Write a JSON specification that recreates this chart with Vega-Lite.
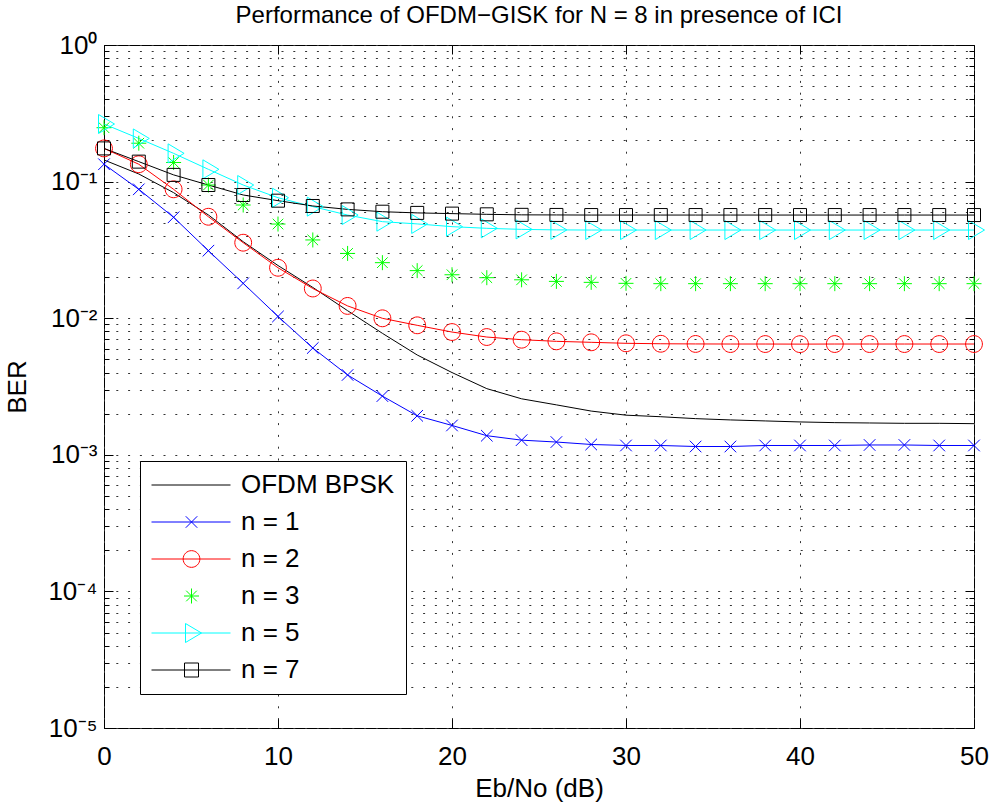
{
  "$schema": "https://vega.github.io/schema/vega-lite/v6.json",
  "width": 870,
  "height": 683,
  "autosize": "none",
  "padding": {"left": 104, "top": 45, "right": 17, "bottom": 75},
  "background": "white",
  "title": {"text": "Performance of OFDM−GISK for N = 8 in presence of ICI", "fontSize": 24, "fontWeight": "normal", "font": "Liberation Sans", "color": "black", "anchor": "middle", "baseline": "bottom", "frame": "group", "offset": -20},
  "data": {"values": [
    {"s": "OFDM BPSK", "x": 0, "y": 0.144}, {"s": "OFDM BPSK", "x": 2, "y": 0.1137}, {"s": "OFDM BPSK", "x": 4, "y": 0.083}, {"s": "OFDM BPSK", "x": 6, "y": 0.057}, {"s": "OFDM BPSK", "x": 8, "y": 0.0363}, {"s": "OFDM BPSK", "x": 10, "y": 0.0243}, {"s": "OFDM BPSK", "x": 12, "y": 0.0168}, {"s": "OFDM BPSK", "x": 14, "y": 0.01135}, {"s": "OFDM BPSK", "x": 16, "y": 0.00775}, {"s": "OFDM BPSK", "x": 18, "y": 0.00538}, {"s": "OFDM BPSK", "x": 20, "y": 0.0040}, {"s": "OFDM BPSK", "x": 22, "y": 0.00305}, {"s": "OFDM BPSK", "x": 24, "y": 0.00257}, {"s": "OFDM BPSK", "x": 26, "y": 0.00232}, {"s": "OFDM BPSK", "x": 28, "y": 0.00209}, {"s": "OFDM BPSK", "x": 30, "y": 0.00195}, {"s": "OFDM BPSK", "x": 32, "y": 0.0019}, {"s": "OFDM BPSK", "x": 34, "y": 0.00184}, {"s": "OFDM BPSK", "x": 36, "y": 0.0018}, {"s": "OFDM BPSK", "x": 38, "y": 0.00177}, {"s": "OFDM BPSK", "x": 40, "y": 0.00174}, {"s": "OFDM BPSK", "x": 42, "y": 0.00172}, {"s": "OFDM BPSK", "x": 44, "y": 0.00171}, {"s": "OFDM BPSK", "x": 46, "y": 0.0017}, {"s": "OFDM BPSK", "x": 48, "y": 0.0017}, {"s": "OFDM BPSK", "x": 50, "y": 0.00169},
    {"s": "n = 1", "x": 0, "y": 0.134}, {"s": "n = 1", "x": 2, "y": 0.0878}, {"s": "n = 1", "x": 4, "y": 0.0548}, {"s": "n = 1", "x": 6, "y": 0.0312}, {"s": "n = 1", "x": 8, "y": 0.018}, {"s": "n = 1", "x": 10, "y": 0.0103}, {"s": "n = 1", "x": 12, "y": 0.00605}, {"s": "n = 1", "x": 14, "y": 0.00384}, {"s": "n = 1", "x": 16, "y": 0.00269}, {"s": "n = 1", "x": 18, "y": 0.00193}, {"s": "n = 1", "x": 20, "y": 0.00164}, {"s": "n = 1", "x": 22, "y": 0.00138}, {"s": "n = 1", "x": 24, "y": 0.00128}, {"s": "n = 1", "x": 26, "y": 0.00124}, {"s": "n = 1", "x": 28, "y": 0.00119}, {"s": "n = 1", "x": 30, "y": 0.00117}, {"s": "n = 1", "x": 32, "y": 0.00117}, {"s": "n = 1", "x": 34, "y": 0.00115}, {"s": "n = 1", "x": 36, "y": 0.00115}, {"s": "n = 1", "x": 38, "y": 0.00117}, {"s": "n = 1", "x": 40, "y": 0.00117}, {"s": "n = 1", "x": 42, "y": 0.00117}, {"s": "n = 1", "x": 44, "y": 0.00118}, {"s": "n = 1", "x": 46, "y": 0.00118}, {"s": "n = 1", "x": 48, "y": 0.00117}, {"s": "n = 1", "x": 50, "y": 0.00117},
    {"s": "n = 2", "x": 0, "y": 0.175}, {"s": "n = 2", "x": 2, "y": 0.134}, {"s": "n = 2", "x": 4, "y": 0.0878}, {"s": "n = 2", "x": 6, "y": 0.0553}, {"s": "n = 2", "x": 8, "y": 0.0357}, {"s": "n = 2", "x": 10, "y": 0.0234}, {"s": "n = 2", "x": 12, "y": 0.0165}, {"s": "n = 2", "x": 14, "y": 0.0123}, {"s": "n = 2", "x": 16, "y": 0.00998}, {"s": "n = 2", "x": 18, "y": 0.00887}, {"s": "n = 2", "x": 20, "y": 0.00792}, {"s": "n = 2", "x": 22, "y": 0.00728}, {"s": "n = 2", "x": 24, "y": 0.00696}, {"s": "n = 2", "x": 26, "y": 0.00677}, {"s": "n = 2", "x": 28, "y": 0.00666}, {"s": "n = 2", "x": 30, "y": 0.00655}, {"s": "n = 2", "x": 32, "y": 0.0065}, {"s": "n = 2", "x": 34, "y": 0.00648}, {"s": "n = 2", "x": 36, "y": 0.00647}, {"s": "n = 2", "x": 38, "y": 0.00647}, {"s": "n = 2", "x": 40, "y": 0.00646}, {"s": "n = 2", "x": 42, "y": 0.00647}, {"s": "n = 2", "x": 44, "y": 0.00647}, {"s": "n = 2", "x": 46, "y": 0.00647}, {"s": "n = 2", "x": 48, "y": 0.00647}, {"s": "n = 2", "x": 50, "y": 0.00647},
    {"s": "n = 3", "x": 0, "y": 0.248}, {"s": "n = 3", "x": 2, "y": 0.191}, {"s": "n = 3", "x": 4, "y": 0.138}, {"s": "n = 3", "x": 6, "y": 0.0944}, {"s": "n = 3", "x": 8, "y": 0.0674}, {"s": "n = 3", "x": 10, "y": 0.0489}, {"s": "n = 3", "x": 12, "y": 0.0374}, {"s": "n = 3", "x": 14, "y": 0.0298}, {"s": "n = 3", "x": 16, "y": 0.0255}, {"s": "n = 3", "x": 18, "y": 0.0223}, {"s": "n = 3", "x": 20, "y": 0.0208}, {"s": "n = 3", "x": 22, "y": 0.0198}, {"s": "n = 3", "x": 24, "y": 0.0191}, {"s": "n = 3", "x": 26, "y": 0.0186}, {"s": "n = 3", "x": 28, "y": 0.0183}, {"s": "n = 3", "x": 30, "y": 0.018}, {"s": "n = 3", "x": 32, "y": 0.0179}, {"s": "n = 3", "x": 34, "y": 0.0179}, {"s": "n = 3", "x": 36, "y": 0.0179}, {"s": "n = 3", "x": 38, "y": 0.0179}, {"s": "n = 3", "x": 40, "y": 0.0179}, {"s": "n = 3", "x": 42, "y": 0.0179}, {"s": "n = 3", "x": 44, "y": 0.0179}, {"s": "n = 3", "x": 46, "y": 0.0179}, {"s": "n = 3", "x": 48, "y": 0.0179}, {"s": "n = 3", "x": 50, "y": 0.0179},
    {"s": "n = 5", "x": 0, "y": 0.264}, {"s": "n = 5", "x": 2, "y": 0.207}, {"s": "n = 5", "x": 4, "y": 0.161}, {"s": "n = 5", "x": 6, "y": 0.123}, {"s": "n = 5", "x": 8, "y": 0.0944}, {"s": "n = 5", "x": 10, "y": 0.0762}, {"s": "n = 5", "x": 12, "y": 0.0656}, {"s": "n = 5", "x": 14, "y": 0.0569}, {"s": "n = 5", "x": 16, "y": 0.0509}, {"s": "n = 5", "x": 18, "y": 0.049}, {"s": "n = 5", "x": 20, "y": 0.0468}, {"s": "n = 5", "x": 22, "y": 0.0455}, {"s": "n = 5", "x": 24, "y": 0.0447}, {"s": "n = 5", "x": 26, "y": 0.0443}, {"s": "n = 5", "x": 28, "y": 0.0442}, {"s": "n = 5", "x": 30, "y": 0.0442}, {"s": "n = 5", "x": 32, "y": 0.0442}, {"s": "n = 5", "x": 34, "y": 0.0442}, {"s": "n = 5", "x": 36, "y": 0.0442}, {"s": "n = 5", "x": 38, "y": 0.0442}, {"s": "n = 5", "x": 40, "y": 0.0442}, {"s": "n = 5", "x": 42, "y": 0.0442}, {"s": "n = 5", "x": 44, "y": 0.0442}, {"s": "n = 5", "x": 46, "y": 0.0442}, {"s": "n = 5", "x": 48, "y": 0.0442}, {"s": "n = 5", "x": 50, "y": 0.0442},
    {"s": "n = 7", "x": 0, "y": 0.175}, {"s": "n = 7", "x": 2, "y": 0.14}, {"s": "n = 7", "x": 4, "y": 0.112}, {"s": "n = 7", "x": 6, "y": 0.0944}, {"s": "n = 7", "x": 8, "y": 0.0798}, {"s": "n = 7", "x": 10, "y": 0.0725}, {"s": "n = 7", "x": 12, "y": 0.0663}, {"s": "n = 7", "x": 14, "y": 0.0626}, {"s": "n = 7", "x": 16, "y": 0.0602}, {"s": "n = 7", "x": 18, "y": 0.059}, {"s": "n = 7", "x": 20, "y": 0.0583}, {"s": "n = 7", "x": 22, "y": 0.0576}, {"s": "n = 7", "x": 24, "y": 0.0571}, {"s": "n = 7", "x": 26, "y": 0.057}, {"s": "n = 7", "x": 28, "y": 0.0569}, {"s": "n = 7", "x": 30, "y": 0.0569}, {"s": "n = 7", "x": 32, "y": 0.0569}, {"s": "n = 7", "x": 34, "y": 0.0569}, {"s": "n = 7", "x": 36, "y": 0.0569}, {"s": "n = 7", "x": 38, "y": 0.0569}, {"s": "n = 7", "x": 40, "y": 0.0569}, {"s": "n = 7", "x": 42, "y": 0.0569}, {"s": "n = 7", "x": 44, "y": 0.0569}, {"s": "n = 7", "x": 46, "y": 0.0569}, {"s": "n = 7", "x": 48, "y": 0.0569}, {"s": "n = 7", "x": 50, "y": 0.0569}
  ]},
  "resolve": {"axis": {"x": "independent", "y": "independent"}},
  "layer": [
    {
      "transform": [{"filter": "false"}],
      "mark": {"type": "point"},
      "encoding": {
        "x": {"field": "x", "type": "quantitative", "scale": {"domain": [0, 50], "nice": false, "zero": false}, "axis": null},
        "y": {"field": "y", "type": "quantitative", "scale": {"type": "log", "domain": [0.00001, 1], "nice": false}, "axis": {"orient": "left", "values": [0.00001,0.00002,0.00003,0.00004,0.00005,0.00006,0.00007,0.00008,0.00009,0.0001,0.0002,0.0003,0.0004,0.0005,0.0006,0.0007,0.0008,0.0009,0.001,0.002,0.003,0.004,0.005,0.006,0.007,0.008,0.009,0.01,0.02,0.03,0.04,0.05,0.06,0.07,0.08,0.09,0.1,0.2,0.3,0.4,0.5,0.6,0.7,0.8,0.9,1], "labels": false, "title": null, "tickSize": -5, "grid": true, "gridDash": [2, 9.8], "gridColor": "#333333", "gridWidth": 1}}
      }
    },
    {
      "transform": [{"filter": "false"}],
      "mark": {"type": "point"},
      "encoding": {
        "x": {"field": "x", "type": "quantitative", "axis": null},
        "y": {"field": "y", "type": "quantitative", "axis": {"orient": "right", "values": [0.00002,0.00003,0.00004,0.00005,0.00006,0.00007,0.00008,0.00009,0.0002,0.0003,0.0004,0.0005,0.0006,0.0007,0.0008,0.0009,0.002,0.003,0.004,0.005,0.006,0.007,0.008,0.009,0.02,0.03,0.04,0.05,0.06,0.07,0.08,0.09,0.2,0.3,0.4,0.5,0.6,0.7,0.8,0.9], "labels": false, "title": null, "tickSize": -5, "grid": false}}
      }
    },
    {
      "transform": [{"filter": "datum.s !== 'n = 3'"}],
      "mark": {"type": "line", "strokeWidth": 1, "clip": false},
      "encoding": {
        "x": {"field": "x", "type": "quantitative", "axis": {"orient": "bottom", "values": [0, 10, 20, 30, 40, 50], "title": "Eb/No (dB)", "tickSize": -9, "labelPadding": 24, "grid": true, "gridDash": [2, 9.8], "gridColor": "#333333", "gridWidth": 1, "labelFlush": false, "titlePadding": 6}},
        "y": {"field": "y", "type": "quantitative", "axis": {"orient": "left", "values": [0.00001, 0.0001, 0.001, 0.01, 0.1, 1], "title": "BER", "tickSize": -9, "labelPadding": 16, "grid": false, "titlePadding": 17, "labelExpr": "datum.value > 0.5 ? '10⁰' : datum.value > 0.05 ? '10⁻¹' : datum.value > 0.005 ? '10⁻²' : datum.value > 0.0005 ? '10⁻³' : datum.value > 0.00005 ? '10⁻⁴' : '10⁻⁵'"}},
        "color": {"field": "s", "type": "nominal", "scale": {"domain": ["OFDM BPSK", "n = 1", "n = 2", "n = 3", "n = 5", "n = 7"], "range": ["#000000", "#0000ff", "#ff0000", "#00ff00", "#00ffff", "#000000"]},
          "legend": {"orient": "none", "legendX": 36, "legendY": 416, "title": null, "padding": 11, "fillColor": "white", "strokeColor": "black", "labelFontSize": 26, "labelFont": "Liberation Sans", "labelColor": "black", "labelOffset": 64, "symbolSize": 625, "rowPadding": 11, "labelLimit": 400, "symbolStrokeWidth": 1,
            "encode": {"symbols": {"update": {
              "shape": {"signal": "datum.value === 'OFDM BPSK' ? 'M-1,0L5.32,0' : datum.value === 'n = 1' ? 'M-1,0L5.32,0M1.74,-0.46L2.66,0.46M1.74,0.46L2.66,-0.46' : datum.value === 'n = 2' ? 'M-1,0L5.32,0M2.868,0A0.668,0.668,0,1,1,1.532,0A0.668,0.668,0,1,1,2.868,0' : datum.value === 'n = 3' ? 'M1.6,0L2.8,0M2.2,-0.6L2.2,0.6M1.776,-0.424L2.624,0.424M1.776,0.424L2.624,-0.424' : datum.value === 'n = 5' ? 'M-1,0L5.32,0M1.72,-0.76L3.0,0L1.72,0.76Z' : 'M-1,0L5.32,0M1.64,-0.56L2.76,-0.56L2.76,0.56L1.64,0.56Z'"},
              "size": {"value": 625},
              "strokeWidth": {"value": 1},
              "fill": {"value": "transparent"},
              "opacity": {"value": 1}
            }}}
          }
        }
      }
    },
    {
      "transform": [{"filter": "datum.s !== 'OFDM BPSK'"}],
      "mark": {"type": "point", "filled": false, "size": 400, "strokeWidth": 1, "opacity": 1, "clip": false},
      "encoding": {
        "x": {"field": "x", "type": "quantitative", "axis": {"orient": "top", "values": [0, 10, 20, 30, 40, 50], "labels": false, "title": null, "tickSize": -9, "grid": false}},
        "y": {"field": "y", "type": "quantitative", "axis": {"orient": "right", "values": [0.00001, 0.0001, 0.001, 0.01, 0.1, 1], "labels": false, "title": null, "tickSize": -9, "grid": false}},
        "color": {"field": "s", "type": "nominal", "legend": null},
        "shape": {"field": "s", "type": "nominal", "legend": null, "scale": {"domain": ["n = 1", "n = 2", "n = 3", "n = 5", "n = 7"], "range": ["M-0.58,-0.58L0.58,0.58M-0.58,0.58L0.58,-0.58", "M0.84,0A0.84,0.84,0,1,1,-0.84,0A0.84,0.84,0,1,1,0.84,0", "M-0.75,0L0.75,0M0,-0.75L0,0.75M-0.53,-0.53L0.53,0.53M-0.53,0.53L0.53,-0.53", "M-0.55,-0.95L1.05,0L-0.55,0.95Z", "M-0.65,-0.65L0.65,-0.65L0.65,0.65L-0.65,0.65Z"]}}
      }
    }
  ],
  "config": {
    "view": {"stroke": "black", "strokeWidth": 1},
    "font": "Liberation Sans",
    "axis": {"domain": false, "tickColor": "black", "tickWidth": 1, "labelColor": "black", "titleColor": "black", "labelFont": "Liberation Sans", "titleFont": "Liberation Sans", "labelFontSize": 26, "titleFontSize": 26, "titleFontWeight": "normal"}
  }
}
